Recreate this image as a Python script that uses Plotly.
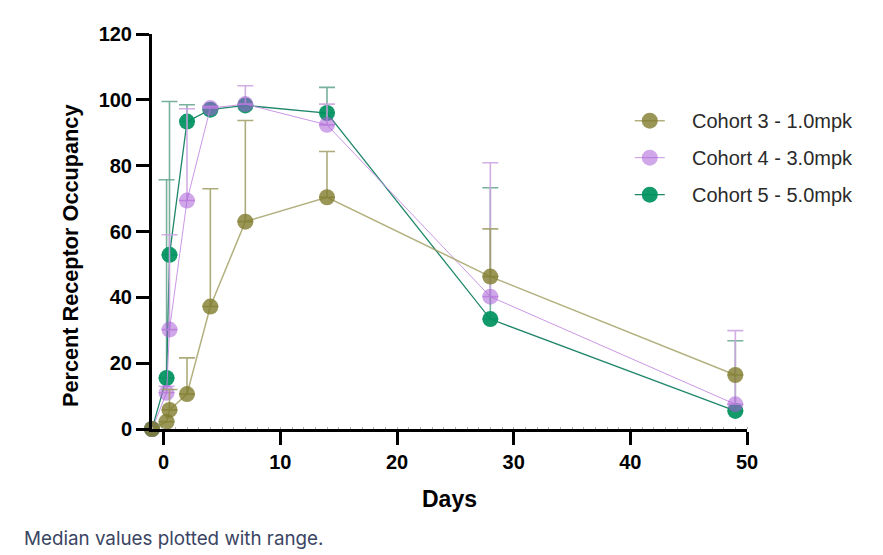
import plotly.graph_objects as go

days = [-1, 0.25, 0.5, 2, 4, 7, 14, 28, 49]

c3_median = [0, 2.2, 5.8, 10.6, 37.2, 63.0, 70.4, 46.3, 16.4]
c3_upper = [0, 2.2, 12.0, 21.6, 73.0, 93.7, 84.3, 60.8, 16.4]

c4_median = [0, 11.0, 30.2, 69.4, 97.5, 98.7, 92.4, 40.2, 7.5]
c4_upper = [0, 13.0, 59.0, 97.3, 98.0, 104.3, 98.7, 80.9, 29.9]

c5_median = [0, 15.5, 52.9, 93.4, 97.0, 98.3, 96.0, 33.4, 5.5]
c5_upper = [0, 75.7, 99.5, 98.5, 98.0, 98.5, 103.8, 73.3, 26.8]

names = ["Cohort 3 - 1.0mpk", "Cohort 4 - 3.0mpk", "Cohort 5 - 5.0mpk"]
x_ticks = [0, 10, 20, 30, 40, 50]
y_ticks = [0, 20, 40, 60, 80, 100, 120]

series = [
    # name, median, upper, marker, line, errcolor, linewidth, rank
    (names[2], c5_median, c5_upper, "rgba(0,146,96,0.93)", "rgba(20,128,98,0.95)", "rgba(105,168,145,0.9)", 1.3, 3),
    (names[1], c4_median, c4_upper, "rgba(170,95,215,0.55)", "rgba(195,140,225,0.9)", "rgba(205,165,225,0.9)", 1.0, 2),
    (names[0], c3_median, c3_upper, "rgba(128,124,45,0.8)", "rgba(160,156,95,0.8)", "rgba(160,156,100,0.85)", 1.5, 1),
]

PAD = "\u00a0" * 4

fig = go.Figure()
for name, med, up, mc, lc, ec, lw, rank in series:
    plus = [u - m for u, m in zip(up, med)]
    fig.add_trace(go.Scatter(
        x=days, y=med, name=PAD + name, mode="lines+markers",
        legendrank=rank, legendgroup=name,
        marker=dict(size=16, color=mc, line=dict(width=0)),
        line=dict(color=lc, width=lw),
        error_y=dict(type="data", symmetric=False, array=plus,
                     arrayminus=[0] * len(med), color=ec, thickness=1.6, width=8),
        cliponaxis=False,
    ))

FAM = "Liberation Sans, Arial, sans-serif"
axis_font = dict(family=FAM, size=20, color="black", weight="bold")

fig.update_layout(
    width=875, height=547,
    margin=dict(l=144, r=136, t=26, b=126),
    paper_bgcolor="white", plot_bgcolor="white",
    showlegend=True,
    legend=dict(x=0.803, y=0.83, xanchor="left", yanchor="top",
                font=dict(family=FAM, size=20, color="#2a2a2a"),
                tracegroupgap=8,
                bgcolor="rgba(0,0,0,0)"),
    xaxis=dict(
        range=[-1, 50], tickvals=x_ticks, ticktext=[str(v) for v in x_ticks],
        showline=True, linecolor="black", linewidth=3, showgrid=False, zeroline=False,
        ticks="outside", ticklen=13, tickwidth=3, tickcolor="black",
        tickfont=axis_font,
        minor=dict(ticks="inside", dtick=1, tick0=0, ticklen=2, tickwidth=1, tickcolor="#b0b0b0", showgrid=False),
        title=dict(text="Days", font=dict(family=FAM, size=23, color="black", weight="bold"), standoff=19),
    ),
    yaxis=dict(
        range=[0, 120], tickvals=y_ticks, ticktext=[str(v) for v in y_ticks],
        showline=True, linecolor="black", linewidth=3, showgrid=False, zeroline=False,
        ticks="outside", ticklen=13, tickwidth=3, tickcolor="black",
        tickfont=axis_font,
    ),
    annotations=[
        dict(
            text="Percent Receptor Occupancy", xref="paper", yref="paper",
            x=-0.138, y=0.44, xanchor="center", yanchor="middle", textangle=-90,
            showarrow=False,
            font=dict(family=FAM, size=21.7, color="black", weight="bold"),
        ),
        dict(
            text="Median values plotted with range.", xref="paper", yref="paper",
            x=-0.2185, y=-0.278, xanchor="left", yanchor="middle", showarrow=False,
            font=dict(family="Inter, sans-serif", size=18.8, color="#3a4563"),
        ),
    ],
)

fig.write_html("out.html")
